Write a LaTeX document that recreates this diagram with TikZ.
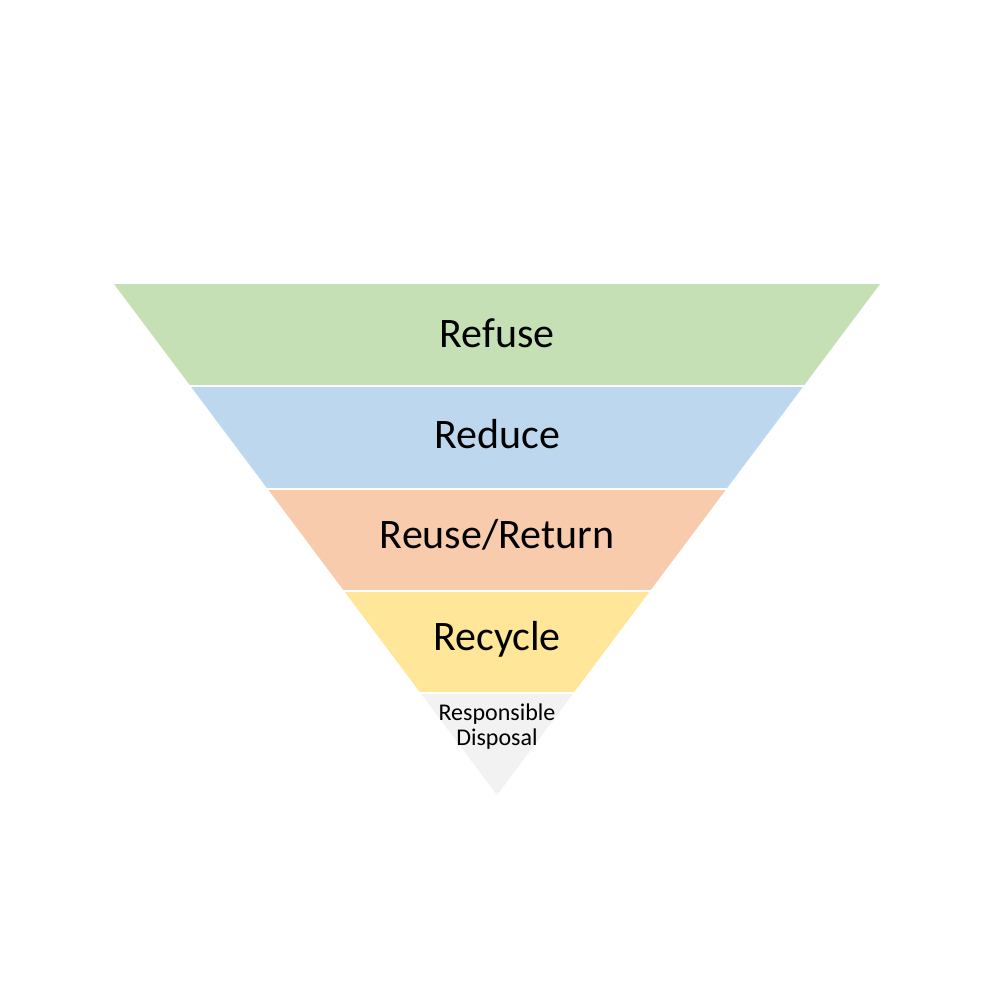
\documentclass[tikz,border=0pt]{standalone}
\usepackage{fontspec}
\setmainfont{Carlito}
\definecolor{bandgreen}{HTML}{C5E0B4}
\definecolor{bandblue}{HTML}{BDD7EE}
\definecolor{bandorange}{HTML}{F8CBAD}
\definecolor{bandyellow}{HTML}{FFE699}
\definecolor{bandgray}{HTML}{F2F2F2}
\begin{document}
\begin{tikzpicture}[x=1pt,y=-1pt,
  biglabel/.style={font=\fontsize{42}{48}\selectfont, text=black, anchor=base, inner sep=0pt},
  smalllabel/.style={font=\fontsize{24}{25}\selectfont, text=black, align=center, anchor=base, inner sep=0pt}]
\useasboundingbox[fill=white] (0,0) rectangle (992,992);
\begin{scope}
  \clip (114,284) -- (880,284) -- (497,795) -- cycle;
  \fill[bandgreen]  (0,284)   rectangle (992,384.5);
  \fill[bandblue]   (0,386.5) rectangle (992,487.5);
  \fill[bandorange] (0,489.5) rectangle (992,590);
  \fill[bandyellow] (0,592)   rectangle (992,692);
  \fill[bandgray]   (0,693.5) rectangle (992,800);
\end{scope}
\node[biglabel] (refuse)  at (497,347) {Refuse};
\node[biglabel] (reduce)  at (497,448) {Reduce};
\node[biglabel] (reuse)   at (497,548) {Reuse/Return};
\node[biglabel] (recycle) at (497,650) {Recycle};
\node[smalllabel] (disposal) at (497,745) {Responsible\\Disposal};
\end{tikzpicture}
\end{document}
